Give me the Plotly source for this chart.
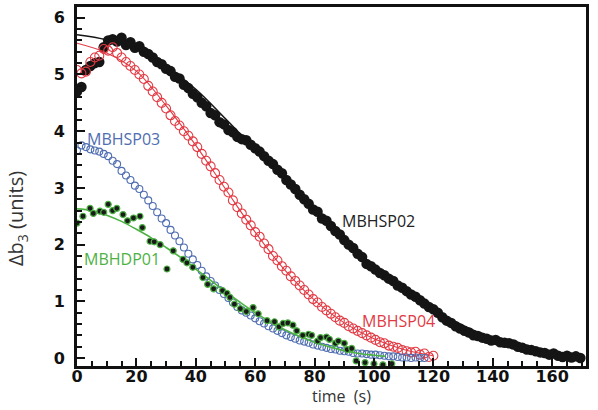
import plotly.graph_objects as go

# ---------------- data ----------------
STEP = 1.5  # sampling interval (s) of the three dense series

sp02_v = [4.70, 4.78, 5.08, 5.15, 5.20, 5.22, 5.48, 5.60, 5.62, 5.58,
          5.65, 5.52, 5.57, 5.47, 5.50, 5.40, 5.36, 5.30, 5.22, 5.18,
          5.10, 5.06, 4.96, 4.93, 4.82, 4.76, 4.66, 4.60, 4.50, 4.44,
          4.32, 4.28, 4.16, 4.12, 4.02, 3.98, 3.90, 3.86, 3.84, 3.76,
          3.70, 3.64, 3.56, 3.48, 3.42, 3.32, 3.26, 3.14, 3.06, 2.98,
          2.88, 2.80, 2.72, 2.62, 2.58, 2.46, 2.42, 2.33, 2.24, 2.18,
          2.08, 2.00, 1.94, 1.84, 1.78, 1.66, 1.62, 1.56, 1.50, 1.46,
          1.40, 1.36, 1.28, 1.24, 1.18, 1.12, 1.08, 1.02, 0.96, 0.90,
          0.86, 0.80, 0.72, 0.66, 0.62, 0.56, 0.52, 0.48, 0.45, 0.40,
          0.39, 0.36, 0.34, 0.31, 0.32, 0.28, 0.27, 0.26, 0.24, 0.20,
          0.18, 0.15, 0.14, 0.12, 0.10, 0.09, 0.06, 0.08, 0.04, 0.02,
          0.04, 0.01, 0.03, 0.00]

sp04_v = [5.08, 5.02, 5.05, 5.22, 5.30, 5.33, 5.45, 5.42, 5.48, 5.38,
          5.30, 5.22, 5.15, 5.08, 5.00, 4.92, 4.80, 4.70, 4.60, 4.50,
          4.40, 4.28, 4.18, 4.10, 4.00, 3.92, 3.82, 3.72, 3.60, 3.48,
          3.38, 3.26, 3.14, 3.02, 2.92, 2.78, 2.66, 2.55, 2.44, 2.34,
          2.22, 2.14, 2.02, 1.92, 1.80, 1.72, 1.62, 1.54, 1.44, 1.36,
          1.28, 1.20, 1.12, 1.04, 0.98, 0.90, 0.84, 0.78, 0.72, 0.66,
          0.62, 0.56, 0.52, 0.48, 0.44, 0.40, 0.36, 0.32, 0.28, 0.26,
          0.22, 0.20, 0.18, 0.14, 0.12, 0.10, 0.11, 0.06, 0.08, 0.02,
          0.04]

sp03_v = [3.66, 3.75, 3.72, 3.68, 3.66, 3.64, 3.60, 3.56, 3.48, 3.42,
          3.30, 3.22, 3.14, 3.04, 2.98, 2.88, 2.78, 2.68, 2.57, 2.46,
          2.38, 2.26, 2.16, 2.06, 1.95, 1.84, 1.74, 1.64, 1.54, 1.44,
          1.36, 1.28, 1.20, 1.13, 1.06, 0.98, 0.90, 0.84, 0.80, 0.75,
          0.70, 0.65, 0.61, 0.56, 0.52, 0.48, 0.44, 0.40, 0.37, 0.34,
          0.31, 0.29, 0.27, 0.24, 0.22, 0.20, 0.18, 0.16, 0.15, 0.13,
          0.12, 0.11, 0.09, 0.08, 0.08, 0.07, 0.06, 0.06, 0.05, 0.04,
          0.03, 0.03, 0.02, 0.01, 0.01, 0.00, 0.01, 0.00, 0.00]

dp01_t = [0, 2, 4.4, 5.5, 7.7, 9, 10.5, 12, 13.4, 15.5, 17, 19, 21.2, 22,
          24.6, 26, 28, 30.3, 32.4, 35.7, 37, 39, 42.4, 44, 46, 49, 50.5,
          51.5, 53, 55, 57, 59.3, 61, 64, 66.5, 68, 69.4, 71, 72.7, 74, 76,
          78, 79, 81, 82, 84, 85, 87, 88, 90, 91, 92.5, 94, 97, 100, 103, 106]
dp01_v = [2.38, 2.50, 2.64, 2.55, 2.59, 2.57, 2.71, 2.60, 2.64, 2.53, 2.42,
          2.47, 2.50, 2.30, 2.06, 2.05, 2.00, 1.57, 1.89, 1.74, 1.68, 1.60,
          1.42, 1.30, 1.22, 1.19, 1.14, 1.07, 0.95, 0.87, 0.82, 0.89, 0.78,
          0.66, 0.64, 0.55, 0.61, 0.62, 0.58, 0.48, 0.40, 0.42, 0.40, 0.30,
          0.36, 0.37, 0.33, 0.26, 0.30, 0.26, 0.15, 0.17, -0.05, -0.08,
          -0.10, -0.12, -0.10]

# fitted curves
fit02_t = [0, 10, 20, 30, 40, 50, 60, 70, 80, 90, 100, 110, 120, 130, 140, 150, 160, 168]
fit02_v = [5.70, 5.61, 5.44, 5.14, 4.74, 4.22, 3.68, 3.13, 2.58, 2.07, 1.60, 1.20, 0.86, 0.57, 0.36, 0.20, 0.09, 0.04]
fit04_t = [0, 10, 20, 30, 40, 50, 60, 70, 80, 90, 100, 110, 120]
fit04_v = [5.55, 5.38, 5.06, 4.45, 3.75, 2.98, 2.22, 1.55, 1.02, 0.62, 0.34, 0.15, 0.04]
fitdp_t = [0, 5, 10, 15, 20, 25, 30, 35, 40, 45, 50, 55, 60, 65, 70, 75, 80, 85, 90, 95, 100, 104]
fitdp_v = [2.63, 2.60, 2.52, 2.41, 2.27, 2.12, 1.95, 1.77, 1.57, 1.37, 1.17, 0.98, 0.80, 0.64,
           0.50, 0.38, 0.28, 0.20, 0.13, 0.08, 0.05, 0.03]

labels = ["MBHSP03", "MBHDP01", "MBHSP02", "MBHSP04"]

x_ticks = [0, 20, 40, 60, 80, 100, 120, 140, 160]
y_ticks = [0, 1, 2, 3, 4, 5, 6]


def times(vals):
    return [round(i * STEP, 2) for i in range(len(vals))]


BLACK = "#151515"
RED = "#e23a44"
BLUE = "#4f6db0"
GREEN = "#4db144"

fig = go.Figure()

# black filled dots MBHSP02
fig.add_trace(go.Scatter(x=times(sp02_v), y=sp02_v, mode="markers",
                         marker=dict(size=10.5, color=BLACK, line=dict(width=0))))
fig.add_trace(go.Scatter(x=fit02_t, y=fit02_v, mode="lines",
                         line=dict(color=BLACK, width=1.6, shape="spline")))
# red open circles MBHSP04
fig.add_trace(go.Scatter(x=times(sp04_v), y=sp04_v, mode="markers",
                         marker=dict(size=9, color=RED, symbol="circle-open",
                                     line=dict(color=RED, width=1.1))))
fig.add_trace(go.Scatter(x=fit04_t, y=fit04_v, mode="lines",
                         line=dict(color=RED, width=1.1, shape="spline")))
# blue open circles MBHSP03
fig.add_trace(go.Scatter(x=times(sp03_v), y=sp03_v, mode="markers",
                         marker=dict(size=7, color=BLUE, symbol="circle-open",
                                     line=dict(color=BLUE, width=1.1))))
# green fit + dark dots MBHDP01
fig.add_trace(go.Scatter(x=fitdp_t, y=fitdp_v, mode="lines",
                         line=dict(color=GREEN, width=1.6, shape="spline")))
fig.add_trace(go.Scatter(x=dp01_t, y=dp01_v, mode="markers",
                         marker=dict(size=6, color="#1a1a1a", line=dict(color=GREEN, width=1.2))))

# series labels
lab_pos = [(2.7, 3.86, BLUE), (1.6, 1.75, GREEN), (88.5, 2.42, "#222222"), (95.3, 0.65, RED)]
for text, (lx, ly, col) in zip(labels, lab_pos):
    fig.add_annotation(x=lx, y=ly, text=text, showarrow=False, xanchor="left", yanchor="middle",
                       font=dict(family="Open Sans, Noto Sans, sans-serif", size=16, color=col))

# axis titles
fig.add_annotation(xref="paper", yref="paper", x=0.52, y=-0.118, yanchor="bottom",
                   text="time  (s)", showarrow=False, borderpad=0,
                   font=dict(family="Open Sans, sans-serif", size=16, color="#333333"))
fig.add_annotation(xref="paper", yref="paper", x=-0.15, y=0.41, textangle=-90,
                   text="Δb<sub>3</sub> (units)", showarrow=False,
                   font=dict(family="Open Sans, sans-serif", size=20, color="#333333"))

tickfont = dict(family="DejaVu Sans, sans-serif", size=16, color="#111111", weight="bold")

fig.update_layout(
    width=598, height=410,
    margin=dict(l=77, r=12, t=4, b=44),
    paper_bgcolor="white", plot_bgcolor="white",
    showlegend=False,
    xaxis=dict(range=[0, 171.4], tickvals=x_ticks, ticktext=[str(v) for v in x_ticks],
               ticks="inside", ticklen=8, tickwidth=2, tickcolor="#111",
               minor=dict(dtick=5, tick0=0, ticks="inside", ticklen=5, tickwidth=1.5, tickcolor="#111"),
               showline=True, linewidth=3, linecolor="#111", mirror=True,
               showgrid=False, zeroline=False, tickfont=tickfont, ticklabelstandoff=-6),
    yaxis=dict(range=[-0.14, 6.19], tickvals=y_ticks, ticktext=[str(v) for v in y_ticks],
               ticks="inside", ticklen=8, tickwidth=2, tickcolor="#111",
               minor=dict(dtick=0.2, tick0=0, ticks="inside", ticklen=5, tickwidth=1.5, tickcolor="#111"),
               showline=True, linewidth=3, linecolor="#111", mirror=True,
               showgrid=False, zeroline=False, tickfont=tickfont, ticklabelstandoff=6),
)

fig.write_html("out.html", config={"displayModeBar": False},
               post_script="document.body.style.margin='0px';")
